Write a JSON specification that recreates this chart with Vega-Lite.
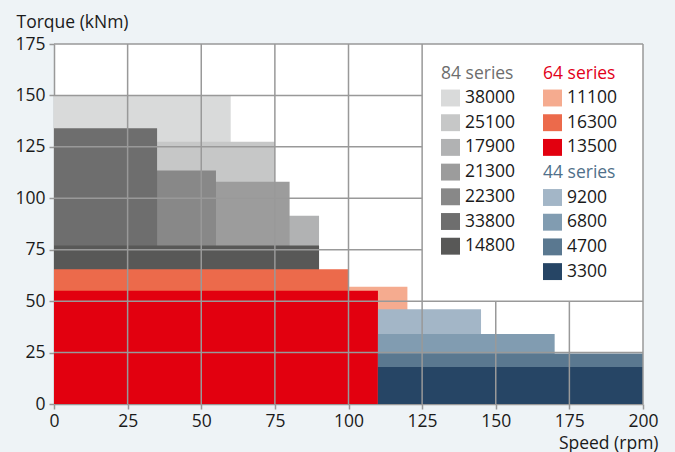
{
  "$schema": "https://vega.github.io/schema/vega-lite/v6.json",
  "width": 589,
  "height": 360,
  "autosize": {"type": "none"},
  "padding": {"left": 54, "top": 44, "right": 32, "bottom": 48},
  "background": "#eef3f6",
  "view": {"fill": "white", "stroke": null},
  "config": {
    "font": "Open Sans",
    "axis": {
      "grid": false,
      "domainColor": "#999999",
      "domainWidth": 1.5,
      "tickColor": "#999999",
      "tickWidth": 1.5,
      "tickSize": 5,
      "labelFont": "Open Sans",
      "labelFontSize": 17.5,
      "labelColor": "#1a1a1a",
      "titleFont": "Open Sans",
      "titleFontSize": 17.5,
      "titleFontWeight": "normal",
      "titleColor": "#1a1a1a",
      "zindex": 1
    },
    "legend": {
      "orient": "none",
      "padding": 0,
      "labelFont": "Open Sans",
      "labelFontSize": 17.5,
      "labelColor": "#1a1a1a",
      "labelOffset": 5,
      "titleFont": "Open Sans",
      "titleFontSize": 17.5,
      "titleFontWeight": "normal",
      "titlePadding": 6.5,
      "symbolType": "M-1,-0.89H1V0.89H-1Z",
      "symbolSize": 361,
      "symbolStrokeWidth": 0,
      "symbolOpacity": 1,
      "rowPadding": 6.7
    }
  },
  "datasets": {
    "s84": [
      {"model": "38000", "from": 0, "speed": 60, "torque": 150, "z": 1},
      {"model": "25100", "from": 0, "speed": 75, "torque": 127.5, "z": 2},
      {"model": "17900", "from": 0, "speed": 90, "torque": 91.5, "z": 3},
      {"model": "21300", "from": 0, "speed": 80, "torque": 108, "z": 4},
      {"model": "22300", "from": 0, "speed": 55, "torque": 113.5, "z": 5},
      {"model": "33800", "from": 0, "speed": 35, "torque": 134, "z": 6},
      {"model": "14800", "from": 0, "speed": 90, "torque": 77, "z": 7}
    ],
    "s64": [
      {"model": "11100", "from": 0, "speed": 120, "torque": 57, "z": 1},
      {"model": "16300", "from": 0, "speed": 100, "torque": 65.5, "z": 2},
      {"model": "13500", "from": 0, "speed": 110, "torque": 55, "z": 3}
    ],
    "s44": [
      {"model": "9200", "from": 110, "speed": 145, "torque": 46, "z": 1},
      {"model": "6800", "from": 110, "speed": 170, "torque": 34, "z": 2},
      {"model": "4700", "from": 110, "speed": 200, "torque": 24.5, "z": 3},
      {"model": "3300", "from": 110, "speed": 200, "torque": 18, "z": 4}
    ],
    "vgrid": [
      {"value": 25, "start": 0, "end": 175},
      {"value": 50, "start": 0, "end": 175},
      {"value": 75, "start": 0, "end": 175},
      {"value": 100, "start": 0, "end": 175},
      {"value": 125, "start": 0, "end": 175},
      {"value": 150, "start": 0, "end": 50},
      {"value": 175, "start": 0, "end": 50},
      {"value": 200, "start": 0, "end": 175}
    ],
    "hgrid": [
      {"value": 25, "start": 0, "end": 200},
      {"value": 50, "start": 0, "end": 200},
      {"value": 75, "start": 0, "end": 125},
      {"value": 100, "start": 0, "end": 125},
      {"value": 125, "start": 0, "end": 125},
      {"value": 150, "start": 0, "end": 125},
      {"value": 175, "start": 0, "end": 200}
    ]
  },
  "layer": [
    {
      "data": {"name": "s84"},
      "mark": {"type": "rect"},
      "encoding": {
        "x": {"field": "from", "type": "quantitative", "scale": {"domain": [0, 200], "nice": false},
          "axis": {"values": [0, 25, 50, 75, 100, 125, 150, 175, 200], "title": "Speed (rpm)", "titleX": 604, "titleY": 44, "titleAlign": "right", "titleBaseline": "alphabetic", "labelPadding": 3, "labelFlush": false}},
        "x2": {"field": "speed"},
        "y": {"field": "torque", "type": "quantitative", "scale": {"domain": [0, 175], "nice": false},
          "axis": {"values": [0, 25, 50, 75, 100, 125, 150, 175], "title": "Torque (kNm)", "titleAngle": 0, "titleX": -38, "titleY": -17, "titleAlign": "left", "titleBaseline": "alphabetic", "labelPadding": 4, "labelFlush": false}},
        "y2": {"datum": 0},
        "order": {"field": "z"},
        "color": {"field": "model", "type": "nominal",
          "scale": {"domain": ["38000", "25100", "17900", "21300", "22300", "33800", "14800"],
            "range": ["#d9dada", "#c6c7c7", "#b1b2b3", "#9c9c9c", "#888888", "#6e6e6e", "#585857"]},
          "legend": {"title": "84 series", "titleColor": "#6d6d6d", "legendX": 387, "legendY": 20.5}}
      }
    },
    {
      "data": {"name": "s64"},
      "mark": {"type": "rect"},
      "encoding": {
        "x": {"field": "from", "type": "quantitative", "scale": {"domain": [0, 200], "nice": false}},
        "x2": {"field": "speed"},
        "y": {"field": "torque", "type": "quantitative", "scale": {"domain": [0, 175], "nice": false}},
        "y2": {"datum": 0},
        "order": {"field": "z"},
        "color": {"field": "model", "type": "nominal",
          "scale": {"domain": ["11100", "16300", "13500"], "range": ["#f5ab8f", "#ec6a4b", "#e2000f"]},
          "legend": {"title": "64 series", "titleColor": "#e2001a", "legendX": 489, "legendY": 20.5}}
      }
    },
    {
      "data": {"name": "s44"},
      "mark": {"type": "rect"},
      "encoding": {
        "x": {"field": "from", "type": "quantitative", "scale": {"domain": [0, 200], "nice": false}},
        "x2": {"field": "speed"},
        "y": {"field": "torque", "type": "quantitative", "scale": {"domain": [0, 175], "nice": false}},
        "y2": {"datum": 0},
        "order": {"field": "z"},
        "color": {"field": "model", "type": "nominal",
          "scale": {"domain": ["9200", "6800", "4700", "3300"], "range": ["#a3b6c7", "#819cb1", "#5a7890", "#264565"]},
          "legend": {"title": "44 series", "titleColor": "#50708a", "legendX": 489, "legendY": 120}}
      }
    },
    {
      "data": {"name": "vgrid"},
      "mark": {"type": "rule", "color": "#999999", "strokeWidth": 1.5},
      "encoding": {
        "x": {"field": "value", "type": "quantitative", "scale": {"domain": [0, 200], "nice": false}},
        "y": {"field": "start", "type": "quantitative", "scale": {"domain": [0, 175], "nice": false}},
        "y2": {"field": "end"}
      }
    },
    {
      "data": {"name": "hgrid"},
      "mark": {"type": "rule", "color": "#999999", "strokeWidth": 1.5},
      "encoding": {
        "y": {"field": "value", "type": "quantitative", "scale": {"domain": [0, 175], "nice": false}},
        "x": {"field": "start", "type": "quantitative", "scale": {"domain": [0, 200], "nice": false}},
        "x2": {"field": "end"}
      }
    }
  ],
  "resolve": {"scale": {"color": "independent"}}
}
